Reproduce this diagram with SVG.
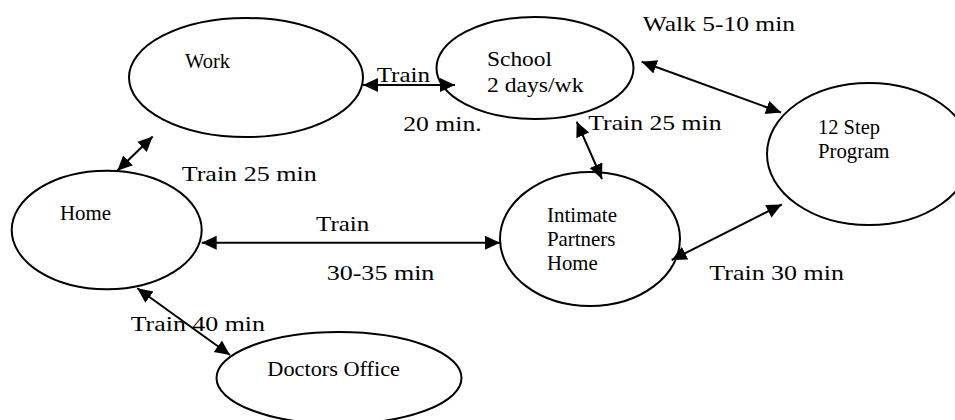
<svg xmlns="http://www.w3.org/2000/svg" width="955" height="420" viewBox="0 0 955 420">
<style>
.node ellipse{fill:#fff;stroke:#000;stroke-width:2}
text{fill:#000;font-size:21px;font-family:"Liberation Serif",serif}
.edges line{stroke:#000;stroke-width:2;marker-start:url(#ah);marker-end:url(#ah)}
</style>
<defs>
<marker id="ah" markerUnits="userSpaceOnUse" markerWidth="16" markerHeight="16" refX="15" refY="7" orient="auto-start-reverse">
<path d="M0,0 L15,7 L0,14 z" fill="#000"/>
</marker>
</defs>
<rect width="955" height="420" fill="#fff"/>
<g id="work" class="node">
<ellipse cx="246" cy="77.5" rx="117" ry="59.5"/>
<text x="185" y="68" style="font-size:20.5px" textLength="45" lengthAdjust="spacingAndGlyphs">Work</text>
</g>
<g id="school" class="node">
<ellipse cx="535" cy="68" rx="98.5" ry="51"/>
<text x="487" y="66" style="font-size:22px" textLength="65" lengthAdjust="spacingAndGlyphs">School</text>
<text x="487" y="92" style="font-size:22px" textLength="96.5" lengthAdjust="spacingAndGlyphs">2 days/wk</text>
</g>
<g id="step" class="node">
<ellipse cx="869" cy="154" rx="102" ry="71"/>
<text x="818" y="134" textLength="62" lengthAdjust="spacingAndGlyphs">12 Step</text>
<text x="818" y="158" textLength="71.5" lengthAdjust="spacingAndGlyphs">Program</text>
</g>
<g id="home" class="node">
<ellipse cx="106.7" cy="230" rx="95" ry="59.3"/>
<text x="60" y="220" textLength="51" lengthAdjust="spacingAndGlyphs">Home</text>
</g>
<g id="intimate" class="node">
<ellipse cx="590" cy="239" rx="90" ry="67"/>
<text x="547" y="222" textLength="70" lengthAdjust="spacingAndGlyphs">Intimate</text>
<text x="547" y="246" textLength="68.3" lengthAdjust="spacingAndGlyphs">Partners</text>
<text x="547" y="270" textLength="50.7" lengthAdjust="spacingAndGlyphs">Home</text>
</g>
<g id="doctors" class="node">
<ellipse cx="339" cy="378" rx="122.5" ry="46"/>
<text x="267.3" y="376" style="font-size:20px" textLength="132.7" lengthAdjust="spacingAndGlyphs">Doctors Office</text>
</g>
<g id="connectors" class="edges">
<line x1="363" y1="85" x2="455" y2="85"/>
<line x1="152.7" y1="136.5" x2="117.3" y2="170.7"/>
<line x1="576.7" y1="121.7" x2="602" y2="179"/>
<line x1="641.7" y1="61.7" x2="781" y2="112.5"/>
<line x1="201.7" y1="242.7" x2="500" y2="242.7"/>
<line x1="671.7" y1="260" x2="781.7" y2="204.5"/>
<line x1="137.3" y1="288.3" x2="230" y2="355"/>
</g>
<g id="edge-labels">
<text x="376.7" y="81.7" textLength="53.3" lengthAdjust="spacingAndGlyphs">Train</text>
<text x="403.3" y="131" textLength="78.3" lengthAdjust="spacingAndGlyphs">20 min.</text>
<text x="642.7" y="30.7" textLength="152.3" lengthAdjust="spacingAndGlyphs">Walk 5-10 min</text>
<text x="588.3" y="130" textLength="133.3" lengthAdjust="spacingAndGlyphs">Train 25 min</text>
<text x="181.7" y="180.7" textLength="135" lengthAdjust="spacingAndGlyphs">Train 25 min</text>
<text x="316" y="231" textLength="53.3" lengthAdjust="spacingAndGlyphs">Train</text>
<text x="326.7" y="280" textLength="107.7" lengthAdjust="spacingAndGlyphs">30-35 min</text>
<text x="709.3" y="280" textLength="134.7" lengthAdjust="spacingAndGlyphs">Train 30 min</text>
<text x="130.7" y="330.7" textLength="134.3" lengthAdjust="spacingAndGlyphs">Train 40 min</text>
</g>
</svg>
